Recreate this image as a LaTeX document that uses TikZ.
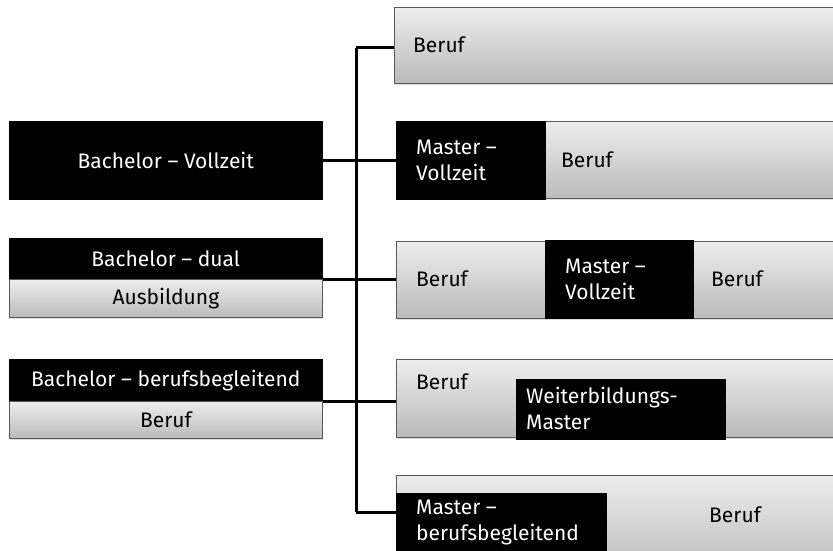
\documentclass[tikz,border=0pt]{standalone}
\usepackage{fontspec}
\setmainfont{Fira Sans}
\usetikzlibrary{shadows}
\begin{document}
\begin{tikzpicture}[x=1pt,y=-1pt,
  grayb/.style={draw=black!65, line width=0.8pt, top color=black!7, bottom color=black!27,
    drop shadow={opacity=0.25, shadow xshift=1pt, shadow yshift=-1.5pt},
    anchor=north west, inner sep=0pt},
  blackb/.style={fill=black, draw=black, line width=0.5pt, anchor=north west, inner sep=0pt},
  lbl/.style={font=\fontsize{21}{26}\selectfont, align=left, inner sep=0pt},
  wlbl/.style={lbl, text=white},
  conn/.style={line width=3pt, black}]
\useasboundingbox (0,0) rectangle (833,551);
% left side
\node[blackb, minimum width=313pt, minimum height=78pt] (bv) at (9,121) {};
\node[wlbl] (bvt) at (bv.center) {Bachelor – Vollzeit};
\node[blackb, minimum width=313pt, minimum height=41pt] (bdk) at (9,238) {};
\node[wlbl] (bdkt) at (bdk.center) {Bachelor – dual};
\node[grayb, minimum width=313pt, minimum height=38pt] (bdg) at (9,279) {};
\node[lbl] (bdgt) at (bdg.center) {Ausbildung};
\node[blackb, minimum width=313pt, minimum height=42pt] (bbk) at (9,359) {};
\node[wlbl] (bbkt) at (bbk.center) {Bachelor – berufsbegleitend};
\node[grayb, minimum width=313pt, minimum height=37pt] (bbg) at (9,401) {};
\node[lbl] (bbgt) at (bbg.center) {Beruf};
% right side
\node[grayb, minimum width=460pt, minimum height=76pt] (r1) at (394,7) {};
\node[lbl, anchor=west] (r1t) at (413,45) {Beruf};

\node[grayb, minimum width=300pt, minimum height=77pt] (r2g) at (545,121) {};
\node[blackb, minimum width=149pt, minimum height=78pt] (r2k) at (396,121) {};
\node[wlbl, anchor=west] (r2kt) at (416,160) {Master –\\Vollzeit};
\node[lbl, anchor=west] (r2gt) at (561,160) {Beruf};

\node[grayb, minimum width=460pt, minimum height=77pt] (r3) at (396,241) {};
\node[blackb, minimum width=148pt, minimum height=78pt] (r3k) at (545,240) {};
\node[lbl, anchor=west] (r3a) at (416,279) {Beruf};
\node[wlbl, anchor=west] (r3kt) at (565,279) {Master –\\Vollzeit};
\node[lbl, anchor=west] (r3b) at (711,279) {Beruf};

\node[grayb, minimum width=460pt, minimum height=78pt] (r4) at (396,359) {};
\node[blackb, minimum width=209pt, minimum height=60pt] (r4k) at (516,379) {};
\node[lbl, anchor=west] (r4t) at (416,382) {Beruf};
\node[wlbl, anchor=west] (r4kt) at (526,408) {Weiterbildungs-\\Master};

\node[grayb, minimum width=460pt, minimum height=100pt] (r5) at (396,475) {};
\node[blackb, minimum width=210pt, minimum height=80pt] (r5k) at (396,493) {};
\node[wlbl, anchor=west] (r5kt) at (416,522) {Master –\\berufsbegleitend};
\node[lbl] (r5t) at (735,515) {Beruf};
% connectors
\coordinate (vt) at (356,48);
\coordinate (vb) at (356,512);
\draw[conn] (vt) -- (vb);
\draw[conn] (vt) -- (vt -| r1.west);
\draw[conn] (vb) -- (vb -| r5.west);
\draw[conn] (bv.east) -- (r2k.west);
\draw[conn] (bdk.south east) -- (bdk.south east -| r3.west);
\draw[conn] (bbk.south east) -- (bbk.south east -| r4.west);
\end{tikzpicture}
\end{document}
